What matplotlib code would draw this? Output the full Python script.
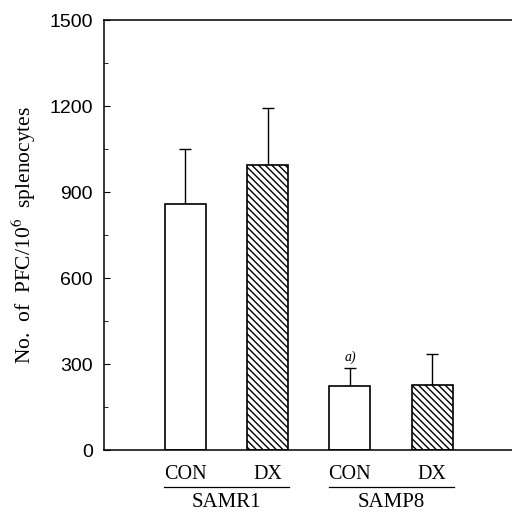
import matplotlib.pyplot as plt
from matplotlib.ticker import MultipleLocator

plt.rcParams['font.family'] = ['Liberation Sans', 'DejaVu Sans']
plt.rcParams['mathtext.fontset'] = 'stix'

groups = ['SAMR1', 'SAMP8']
treatments = ['CON', 'DX', 'CON', 'DX']
means = [860, 993, 223, 227]
errors = [192, 200, 63, 108]
hatches = ['', '\\\\\\\\\\', '', '\\\\\\\\\\']

serif = ['Liberation Serif', 'DejaVu Serif']

fig = plt.figure(figsize=(5.12, 5.15), dpi=100)
ax = fig.add_axes([0.203, 0.126, 0.85, 0.835])

x = list(range(len(means)))
for i in x:
    ax.bar(i, means[i], width=0.5, color='white', edgecolor='black',
           linewidth=1.2, hatch=hatches[i], zorder=2)
    ax.errorbar(i, means[i], yerr=[[0], [errors[i]]], fmt='none',
                ecolor='black', elinewidth=1.0, capsize=4, capthick=1.0, zorder=1)

ax.set_xlim(-0.99, 4.3)
ax.set_ylim(0, 1500)
ax.yaxis.set_major_locator(MultipleLocator(300))
ax.yaxis.set_minor_locator(MultipleLocator(150))
ax.tick_params(axis='y', which='both', direction='in', labelsize=14, pad=8)
ax.tick_params(axis='y', which='major', length=4)
ax.tick_params(axis='y', which='minor', length=3)
ax.set_xticks([])
ax.spines['right'].set_visible(False)
for s in ['left', 'top', 'bottom']:
    ax.spines[s].set_linewidth(1.1)

ax.set_ylabel('No.  of  PFC/10$^6$  splenocytes', family=serif, fontsize=15.5, labelpad=8)

ax.text(2, means[2] + errors[2] + 15, 'a)', ha='center', va='bottom',
        family=serif, style='italic', fontsize=10)

for i, t in enumerate(treatments):
    ax.text(i, -0.035, t, transform=ax.get_xaxis_transform(), ha='center', va='top',
            family=serif, fontsize=14.5)

for g, name in enumerate(groups):
    c = 2 * g + 0.5
    ax.plot([c - 0.76, c + 0.76], [-0.085, -0.085], transform=ax.get_xaxis_transform(),
            color='black', linewidth=0.9, clip_on=False)
    ax.text(c, -0.1, name, transform=ax.get_xaxis_transform(), ha='center', va='top',
            family=serif, fontsize=15)

plt.savefig('out.png', dpi=100)
